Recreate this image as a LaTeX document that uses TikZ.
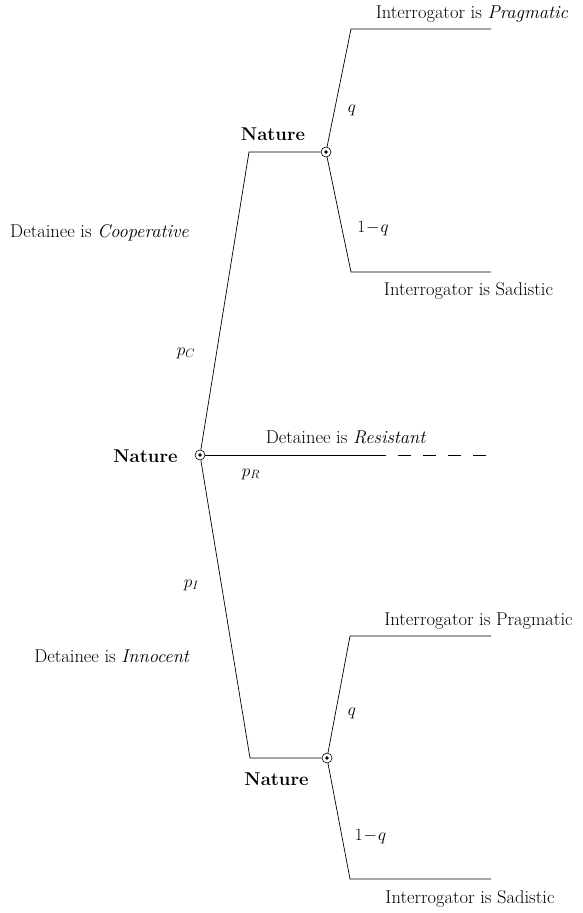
\documentclass[tikz,border=0pt]{standalone}
\usepackage{amsmath}
\begin{document}
\begin{tikzpicture}[x=1pt,y=-1pt,line width=0.7pt,
  chance/.style={circle,draw,fill=white,minimum size=10pt,inner sep=0pt,line width=0.6pt,
    path picture={\fill[black] (path picture bounding box.center) circle (1.8pt);}},
  lbl/.style={inner sep=0pt,anchor=base,font=\fontsize{18.5}{22}\selectfont},
  branch/.style={line width=0.7pt}]
\useasboundingbox (0,0) rectangle (582,913);
% decision points
\node[chance] (root) at (200,455) {};
\node[chance] (n1) at (326,152) {};
\node[chance] (n2) at (327,758) {};
% corners and ends
\coordinate (c1) at (249,152);
\coordinate (c2) at (250,758);
\coordinate (a1) at (351,29);  \coordinate (b1) at (491,29);
\coordinate (a2) at (351,272); \coordinate (b2) at (491,272);
\coordinate (a3) at (350,636); \coordinate (b3) at (491,636);
\coordinate (a4) at (350,879); \coordinate (b4) at (491,879);
\coordinate (r1) at (382,455); \coordinate (r2) at (486,455);
% branches
\draw[branch] (root) -- (c1) -- (n1);
\draw[branch] (root) -- (c2) -- (n2);
\draw[branch] (n1) -- (a1) -- (b1);
\draw[branch] (n1) -- (a2) -- (b2);
\draw[branch] (n2) -- (a3) -- (b3);
\draw[branch] (n2) -- (a4) -- (b4);
\draw[branch] (root) -- (r1);
\draw[branch,dash pattern=on 13pt off 12pt,dash phase=-16pt] (r1) -- (r2);
% labels
\node[lbl] (t1) at (472,18) {Interrogator is \textit{Pragmatic}};
\node[lbl] (t2) at (468.5,295) {Interrogator is Sadistic};
\node[lbl] (nat1) at (273,140) {\textbf{Nature}};
\node[lbl] (q1) at (352,112) {$q$};
\node[lbl] (q1b) at (373,232) {$1\!-\!q$};
\node[lbl] (res) at (346,443) {Detainee is \textit{Resistant}};
\node[lbl] (nat0) at (145.5,462) {\textbf{Nature}};
\node[lbl] (pR) at (251,476) {$p_R$};
\node[lbl] (coop) at (99.5,237) {Detainee is \textit{Cooperative}};
\node[lbl] (pC) at (186,355) {$p_C$};
\node[lbl] (pI) at (191.5,587) {$p_I$};
\node[lbl] (inn) at (112,662) {Detainee is \textit{Innocent}};
\node[lbl] (t3) at (478.5,625) {Interrogator is Pragmatic};
\node[lbl] (q2) at (352,715) {$q$};
\node[lbl] (nat2) at (276.5,785) {\textbf{Nature}};
\node[lbl] (q2b) at (370.5,840) {$1\!-\!q$};
\node[lbl] (t4) at (470,903) {Interrogator is Sadistic};
\end{tikzpicture}
\end{document}
